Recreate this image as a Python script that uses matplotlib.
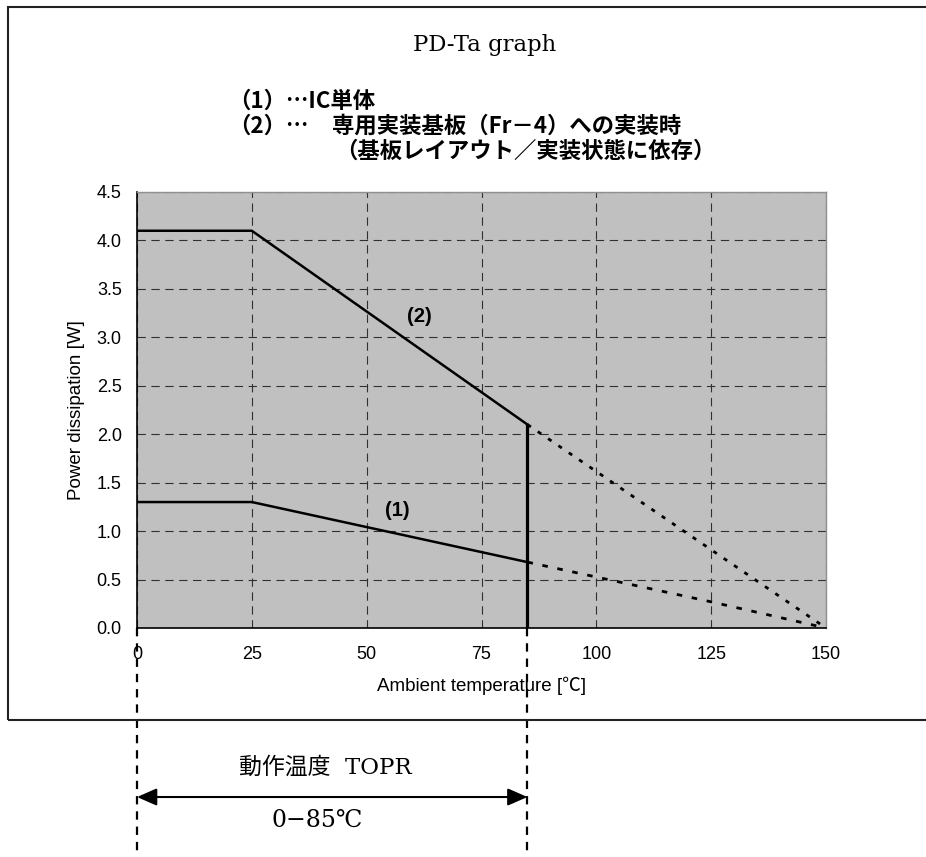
import matplotlib
matplotlib.use('Agg')
import matplotlib.pyplot as plt
from matplotlib.transforms import blended_transform_factory
from matplotlib.patches import Rectangle

# ---- data ----
x_ticks = [0, 25, 50, 75, 100, 125, 150]
y_ticks = [0.0, 0.5, 1.0, 1.5, 2.0, 2.5, 3.0, 3.5, 4.0, 4.5]

ta_2 = [0, 25, 85]
pd_2 = [4.1, 4.1, 2.1]
ta_2_ext = [85, 150]
pd_2_ext = [2.1, 0.0]

ta_1 = [0, 25, 85]
pd_1 = [1.3, 1.3, 0.68]
ta_1_ext = [85, 125, 150]
pd_1_ext = [0.68, 0.27, 0.0]

topr = [0, 85]

title = "PD-Ta graph"
note_1 = "（1）…IC単体"
note_2_prefix = "（2）…"
note_2_body = "専用実装基板（Fr－4）への実装時"
note_3 = "（基板レイアウト／実装状態に依存）"
xlabel = "Ambient temperature [℃]"
ylabel = "Power dissipation [W]"

plt.rcParams['lines.scale_dashes'] = False
sans = ['Liberation Sans', 'Noto Sans CJK JP', 'DejaVu Sans']
cjk_bold = ['Noto Sans CJK JP', 'DejaVu Sans']
serif = ['DejaVu Serif', 'Noto Sans CJK JP']

W, H = 926, 857
fig = plt.figure(figsize=(W / 100, H / 100), dpi=100)
ax_l, ax_b, ax_w, ax_h = 137 / W, 1 - 628 / H, 689 / W, 436 / H
ax = fig.add_axes([ax_l, ax_b, ax_w, ax_h])
ax.set_facecolor('#c0c0c0')
ax.set_xlim(0, 150)
ax.set_ylim(0, 4.5)
ax.set_xticks(x_ticks)
ax.set_yticks(y_ticks)
ax.set_xticklabels([str(v) for v in x_ticks], family=sans, fontsize=13)
ax.set_yticklabels([f"{v:.1f}" for v in y_ticks], family=sans, fontsize=13)
ax.tick_params(axis='x', length=0, pad=13)
ax.tick_params(axis='y', length=0, pad=11)
ax.grid(True, color='#303030', linestyle=(0, (6, 4)), linewidth=0.8)
ax.set_axisbelow(True)
for s in ['left', 'bottom']:
    ax.spines[s].set_color('black')
    ax.spines[s].set_linewidth(1.2)
for s in ['top', 'right']:
    ax.spines[s].set_color('#909090')
    ax.spines[s].set_linewidth(1.0)

ax.set_xlabel(xlabel, family=sans, fontsize=13.5, labelpad=10)
ax.set_ylabel(ylabel, family=sans, fontsize=13.5, labelpad=8)

# curves
ax.plot(ta_2, pd_2, color='black', lw=1.8)
ax.plot(ta_1, pd_1, color='black', lw=1.8)
ax.plot(ta_2_ext, pd_2_ext, color='black', lw=2.0, linestyle=(0, (3, 6)))
ax.plot(ta_1_ext, pd_1_ext, color='black', lw=2.0, linestyle=(0, (4, 7)))
ax.plot([topr[1], topr[1]], [0, pd_2[-1]], color='black', lw=2.3)

ax.text(61.4, 3.21, "(2)", family=sans, fontsize=14.5, fontweight='bold', ha='center', va='center')
ax.text(56.6, 1.21, "(1)", family=sans, fontsize=14.5, fontweight='bold', ha='center', va='center')

# operating-range extension lines & arrow
trans = blended_transform_factory(ax.transData, fig.transFigure)
for xv in topr:
    ax.plot([xv, xv], [ax_b, 0.0], transform=trans, clip_on=False, color='black',
            lw=1.6, linestyle=(0, (6, 5)))
ax.annotate('', xy=(topr[1], 0.070), xytext=(topr[0], 0.070), xycoords=trans, textcoords=trans,
            arrowprops=dict(arrowstyle='<|-|>,head_length=0.8,head_width=0.35', color='black',
                            lw=1.5, mutation_scale=15, shrinkA=0, shrinkB=0),
            annotation_clip=False)
fig.text(325 / W, 1 - 768 / H, "動作温度  TOPR", family=serif, fontsize=16.5, ha='center', va='center')
fig.text(317 / W, 1 - 820 / H, "0−85℃", family=serif, fontsize=17, ha='center', va='center')

# title & notes
fig.text(485 / W, 1 - 45 / H, title, family=serif, fontsize=16.4, ha='center', va='center')
fs_note = 16.1
fig.text(228 / W, 1 - 101 / H, note_1, family=cjk_bold, fontsize=fs_note, fontweight='bold', ha='left', va='center')
fig.text(228 / W, 1 - 126 / H, note_2_prefix, family=cjk_bold, fontsize=fs_note, fontweight='bold', ha='left', va='center')
fig.text(332 / W, 1 - 126 / H, note_2_body, family=cjk_bold, fontsize=fs_note, fontweight='bold', ha='left', va='center')
fig.text(335 / W, 1 - 151 / H, note_3, family=cjk_bold, fontsize=fs_note, fontweight='bold', ha='left', va='center')

# frame
fig.add_artist(Rectangle((8 / W, 1 - 720 / H), 2.0, (720 - 7) / H, transform=fig.transFigure,
                         fill=False, lw=1.5, ec='#222222', clip_on=False))

fig.savefig('out.png', dpi=100)
